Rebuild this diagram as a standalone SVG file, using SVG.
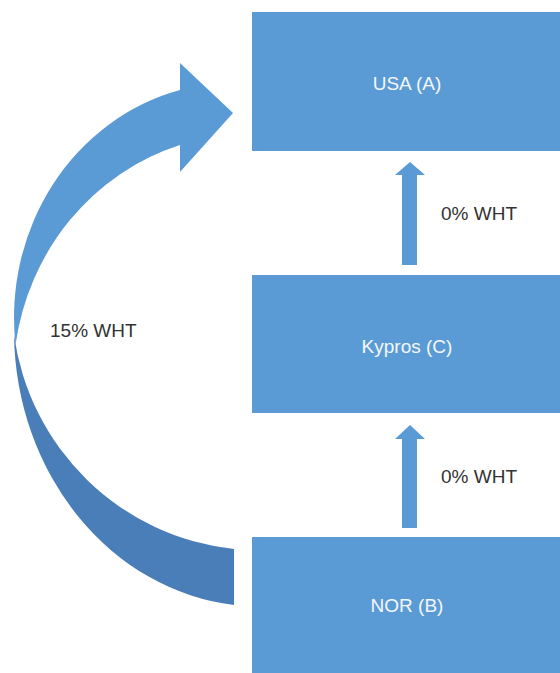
<svg xmlns="http://www.w3.org/2000/svg" width="560" height="673" viewBox="0 0 560 673">
  <style>
    .box { fill: #5B9BD5; }
    .boxlabel { font-family: "Liberation Sans", Arial, sans-serif; font-size: 19px; fill: #F4F7FB; text-anchor: middle; }
    .label { font-family: "Liberation Sans", Arial, sans-serif; font-size: 19px; fill: #333333; }
    .arrow { fill: #5B9BD5; }
    .arrowdark { fill: #4A7EB8; }
  </style>
  <rect width="560" height="673" fill="#FFFFFF"/>
  <g id="node-usa">
    <rect class="box" x="252" y="12" width="308" height="139"/>
    <text class="boxlabel" x="407" y="90">USA (A)</text>
  </g>
  <g id="node-kypros">
    <rect class="box" x="252" y="275" width="308" height="138"/>
    <text class="boxlabel" x="407" y="353">Kypros (C)</text>
  </g>
  <g id="node-nor">
    <rect class="box" x="252" y="537" width="308" height="136"/>
    <text class="boxlabel" x="407" y="612">NOR (B)</text>
  </g>
  <g id="connectors">
    <path class="arrow" d="M402 265 L402 175 L395 175 L410 162 L425 175 L417 175 L417 265 Z"/>
    <path class="arrow" d="M402 528 L402 439 L395 439 L410 425 L425 439 L417 439 L417 528 Z"/>
    <path class="arrowdark" d="M234 605 A246 276 0 0 1 14 335 A248 250 0 0 0 234 549 Z"/>
    <path class="arrow" d="M180 63 L233 113 L180 172 L180 145 A236 246 0 0 0 15.5 345 A220 235 0 0 1 180 90 Z"/>
    <text class="label" x="441" y="220">0% WHT</text>
    <text class="label" x="441" y="483">0% WHT</text>
    <text class="label" x="50" y="337">15% WHT</text>
  </g>
</svg>
